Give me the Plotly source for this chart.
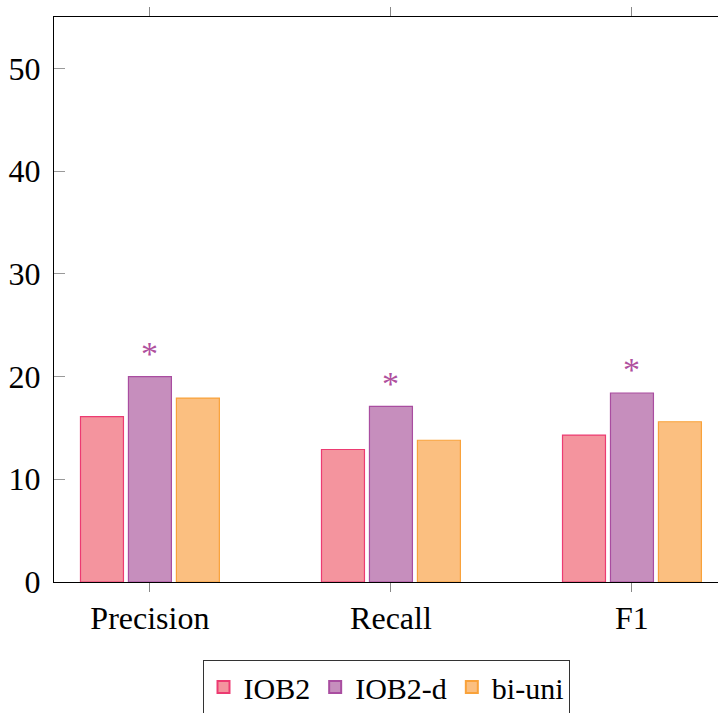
import plotly.graph_objects as go

categories = ["Precision", "Recall", "F1"]
series_names = ["IOB2", "IOB2-d", "bi-uni"]
iob2 = [16.1, 12.9, 14.3]
iob2_d = [20.0, 17.1, 18.4]
bi_uni = [17.9, 13.8, 15.6]
significant = [True, True, True]  # marks on IOB2-d
y_ticks = [0, 10, 20, 30, 40, 50]

fills = ["#F4949E", "#C68EBD", "#FBBF80"]
edges = ["#EC3B72", "#A94DA0", "#F9A23A"]

FONT = "Liberation Serif"
fig = go.Figure()
for name, vals, fc, ec in zip(series_names, [iob2, iob2_d, bi_uni], fills, edges):
    fig.add_trace(go.Bar(
        x=categories, y=vals, name=name,
        marker=dict(color=fc, line=dict(color=ec, width=1.2)),
    ))

for cat, v, sig in zip(categories, iob2_d, significant):
    if sig:
        fig.add_annotation(x=cat, y=v, text="*", showarrow=False,
                           yanchor="middle", yshift=23,
                           font=dict(family=FONT, size=34, color="#B0509E"))

fig.update_layout(
    width=718, height=713,
    margin=dict(l=54, r=0, t=17, b=131, autoexpand=False),
    paper_bgcolor="white", plot_bgcolor="white",
    barmode="group", bargap=0.403, bargroupgap=0.104,
    font=dict(family=FONT, size=32, color="black"),
    showlegend=True,
    legend=dict(orientation="h", x=0.5, xanchor="center", y=-0.138, yanchor="top",
                bordercolor="#333", borderwidth=1, bgcolor="white",
                font=dict(family=FONT, size=30), itemwidth=30,
                tracegroupgap=0, itemsizing="constant"),
)
fig.update_xaxes(range=[-0.398, 2.357], showline=True, linecolor="black", linewidth=1,
                 mirror="allticks", ticks="outside", ticklen=9, tickcolor="#888",
                 tickwidth=1, showgrid=False, zeroline=False, ticklabelstandoff=-1)
fig.update_yaxes(range=[0, 55], tickvals=y_ticks, showline=True, linecolor="black",
                 linewidth=1, mirror=False, ticks="inside", ticklen=11, tickcolor="#999",
                 tickwidth=1, showgrid=False, zeroline=False, ticklabelstandoff=6)

fig.write_html("out.html", config={"displayModeBar": False},
               post_script="document.body.style.margin='0';")
